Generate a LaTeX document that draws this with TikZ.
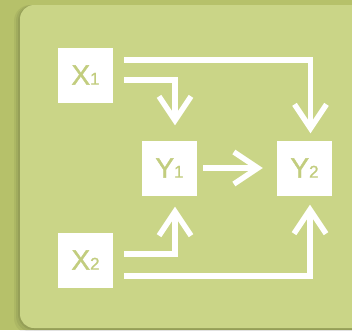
\documentclass[tikz,border=0pt]{standalone}
\usepackage{fontspec}
\setmainfont{Liberation Sans}
\newfontfamily\boxfont[FakeBold=1.2]{Liberation Sans}
\usetikzlibrary{arrows.meta,calc}
\definecolor{outerbg}{HTML}{B6C16A}
\definecolor{panelbg}{HTML}{CAD587}
\definecolor{boxtext}{HTML}{C2CD7E}
\newcommand{\subn}[1]{{\fontsize{17}{17}\selectfont #1}}
\begin{document}
\begin{tikzpicture}[x=1pt,y=-1pt,
  box/.style={fill=white,draw=none,minimum width=55pt,minimum height=55pt,inner sep=0pt,
    text=boxtext,font=\boxfont\fontsize{28}{28}\selectfont},
  arr/.style={draw=white,line width=5.5pt,line cap=butt,
    -{Straight Barb[length=24pt,width=32pt,line cap=butt]}}]
\useasboundingbox (0,0) rectangle (352,330);
\fill[outerbg] (0,0) rectangle (352,330);
% soft shadow
\foreach \d/\o in {6/0.05,4/0.06,2/0.07}{
  \fill[black,opacity=\o,rounded corners=16pt] (20-\d,5) rectangle (372,328+\d);
}
\fill[panelbg,rounded corners=14pt] (20,5) rectangle (372,328);
\node[box] (X1) at (85.5,75) {X\subn{1}};
\node[box] (X2) at (85.5,260) {X\subn{2}};
\node[box] (Y1) at (169.5,168) {Y\subn{1}};
\node[box] (Y2) at (304.5,168) {Y\subn{2}};
\draw[arr] ($(X1.east)+(11,-15)$) -| ($(Y2.north)+(6,-7)$);
\draw[arr] ($(X1.east)+(11,5)$) -| ($(Y1.north)+(5.5,-15)$);
\draw[arr] ($(Y1.east)+(6,0)$) -- ($(Y2.west)+(-14,0)$);
\draw[arr] ($(X2.east)+(11,-6)$) -| ($(Y1.south)+(5.5,11)$);
\draw[arr] ($(X2.east)+(11,16)$) -| ($(Y2.south)+(5.5,9)$);
\end{tikzpicture}
\end{document}
